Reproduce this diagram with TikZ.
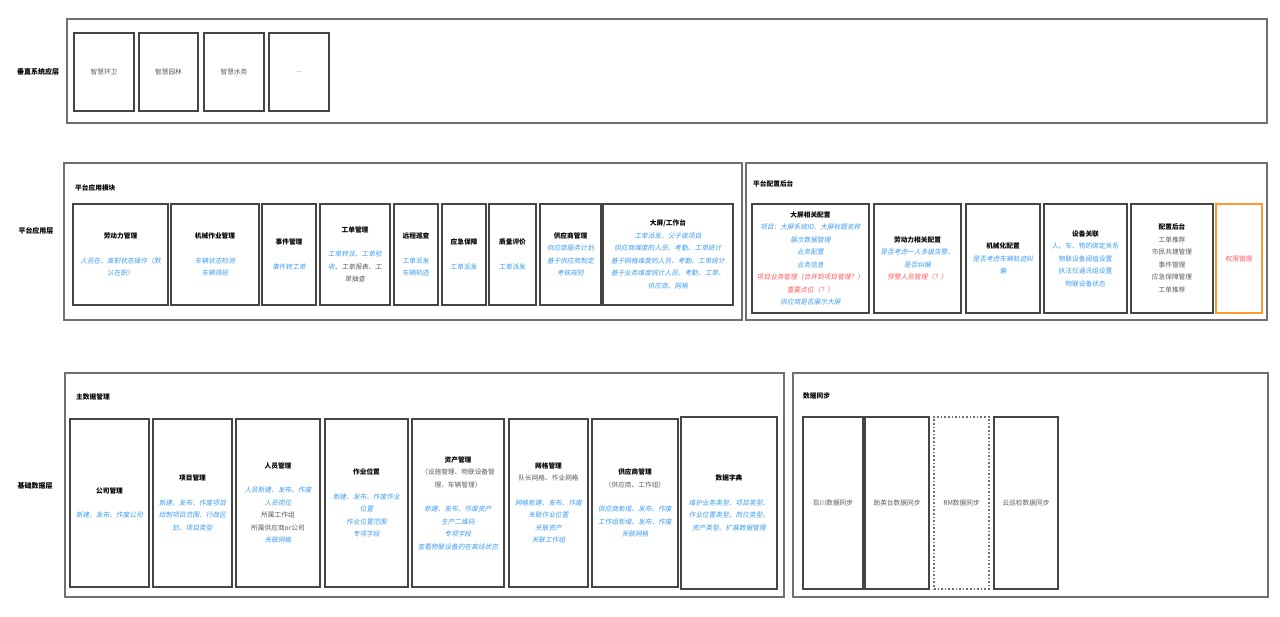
\documentclass[tikz,border=0pt]{standalone}
\usepackage{fontspec}
\setmainfont{Noto Sans CJK SC}
\newfontfamily\slf[FakeSlant=0.18]{Noto Sans CJK SC}
\definecolor{bl}{HTML}{3D9BF0}
\definecolor{rd}{HTML}{FF5A5A}
\definecolor{gt}{HTML}{5A5A5A}
\definecolor{ol}{HTML}{707070}
\definecolor{il}{HTML}{454545}
\definecolor{og}{HTML}{FF9A30}
\newcommand\fsz{\fontsize{6.7}{12.5}\selectfont}
\newcommand\B[1]{\textcolor{bl}{\slf #1}}
\newcommand\Bu[1]{\textcolor{bl}{#1}}
\newcommand\R[1]{\textcolor{rd}{\slf #1}}
\newcommand\G[1]{\textcolor{gt}{#1}}
\newcommand\Gs[1]{\textcolor{gt}{\slf #1}}
\newcommand\T[1]{{\bfseries #1}}
\newcommand\bx[7]{\node[#1, minimum width={#5pt-#3pt}, minimum height={#6pt-#4pt}] (#2) at ({(#3+#5)/2},{(#4+#6)/2}) {#7};}
\tikzset{
  outerbox/.style={draw=ol, line width=1.2pt, inner sep=0pt},
  inbox/.style={draw=il, line width=1.6pt, align=center, inner sep=1pt, font=\fsz, text=black},
  dotbox/.style={inbox, draw=ol, dotted, line width=1.4pt},
  orbox/.style={inbox, draw=og, line width=1.3pt},
  ttl/.style={anchor=west, font=\fsz\bfseries, inner sep=0pt},
  lyr/.style={font=\fontsize{7}{9}\selectfont\bfseries, inner sep=0pt}
}
\begin{document}
\begin{tikzpicture}[x=1pt, y=-1pt]
\useasboundingbox (0,0) rectangle (1280,616);
% ---------- vertical systems layer
\node[lyr] (L1) at (38,72) {垂直系统应层};
\bx{outerbox}{top}{67}{19}{1267}{123}{}
\bx{inbox}{s1}{74}{33}{134}{111}{\G{智慧环卫}}
\bx{inbox}{s2}{139}{33}{198}{111}{\G{智慧园林}}
\bx{inbox}{s3}{204}{33}{264}{111}{\G{智慧水务}}
\bx{inbox}{s4}{269}{33}{329}{111}{\G{...}}
% ---------- platform layer
\node[lyr] (L2) at (36,231) {平台应用层};
\bx{outerbox}{app}{64}{163}{742}{320}{}
\node[ttl] (appt) at (75,188) {平台应用模块};
\bx{inbox}{lab}{73}{204}{168}{305}{\T{劳动力管理}\\[12pt]\B{人员在、离职状态操作（默}\\\B{认在职）}}
\bx{inbox}{mach}{171}{204}{259}{305}{\T{机械作业管理}\\[12pt]\B{车辆状态检测}\\\B{车辆排班}}
\bx{inbox}{evt}{262}{204}{316}{305}{\T{事件管理}\\[12pt]\B{事件转工单}}
\bx{inbox}{wo}{320}{204}{390}{305}{\T{工单管理}\\[12pt]\B{工单转派、工单验}\\\B{收}\Gs{、工单报表、工}\\\Gs{单抽查}}
\bx{inbox}{rem}{394}{204}{438}{305}{\T{远程巡查}\\[12pt]\Bu{工单派发}\\\Bu{车辆轨迹}}
\bx{inbox}{emg}{442}{204}{486}{305}{\T{应急保障}\\[12pt]\Bu{工单派发}}
\bx{inbox}{qa}{489}{204}{536}{305}{\T{质量评价}\\[12pt]\Bu{工单派发}}
\bx{inbox}{sup}{540}{204}{601}{305}{\T{供应商管理}\\\B{供应商服务计划}\\\B{基于供应商制定}\\\B{考核规则}}
\bx{inbox}{scr}{603}{204}{733}{305}{\T{大屏/工作台}\\\B{工单派发、父子级项目}\\\B{供应商维度的人员、考勤、工单统计}\\\B{基于网格维度的人员、考勤、工单统计}\\\B{基于业务维度统计人员、考勤、工单、}\\\B{供应商、网格}}
% ---------- config backend
\bx{outerbox}{cfgo}{746}{163}{1267}{320}{}
\node[ttl] (cfgt) at (753,184) {平台配置后台};
\bx{inbox}{scfg}{752}{204}{869}{313}{\T{大屏相关配置}\\\B{项目：大屏系统ID、大屏标题名称}\\\B{展示数据管理}\\\B{业务配置}\\\B{业务信息}\\\R{项目业务管理（合并到项目管理？）}\\\R{重要点位（？）}\\\B{供应商是否展示大屏}}
\bx{inbox}{lcfg}{874}{204}{961}{313}{\T{劳动力相关配置}\\\B{是否考虑一人多级告警、}\\\B{是否纠偏}\\\R{预警人员管理（？）}}
\bx{inbox}{mcfg}{966}{204}{1040}{313}{\T{机械化配置}\\\B{是否考虑车辆轨迹纠}\\\B{偏}}
\bx{inbox}{dev}{1044}{204}{1127}{313}{\T{设备关联}\\\Bu{人、车、物的绑定关系}\\\Bu{物联设备阈值设置}\\\Bu{执法仪通讯组设置}\\\Bu{物联设备状态}}
\bx{inbox}{cfg}{1131}{204}{1213}{313}{\T{配置后台}\\\G{工单推荐}\\\G{市民共建管理}\\\G{事件管理}\\\G{应急保障管理}\\\G{工单推荐}}
\bx{orbox}{perm}{1216}{204}{1262}{313}{\textcolor{rd}{权限管理}}
% ---------- base data layer
\node[lyr] (L3) at (35,486) {基础数据层};
\bx{outerbox}{mdm}{65}{373}{784}{597}{}
\node[ttl] (mdmt) at (76,397) {主数据管理};
\bx{inbox}{co}{70}{419}{149}{587}{\T{公司管理}\\[12pt]\B{新建、发布、作废公司}}
\bx{inbox}{prj}{153}{419}{232}{587}{\T{项目管理}\\[12pt]\B{新建、发布、作废项目}\\\B{绘制项目范围、行政区}\\\B{划、项目类型}}
\bx{inbox}{ppl}{236}{419}{320}{587}{\T{人员管理}\\[12pt]\B{人员新建、发布、作废}\\\B{人员岗位}\\\G{所属工作组}\\\G{所属供应商or公司}\\\B{关联网格}}
\bx{inbox}{loc}{325}{419}{408}{587}{\T{作业位置}\\[12pt]\B{新建、发布、作废作业}\\\B{位置}\\\B{作业位置范围}\\\B{专项字段}}
\bx{inbox}{ast}{412}{419}{504}{587}{\T{资产管理}\\\G{（设施管理、物联设备管}\\\G{理、车辆管理）}\\[12pt]\B{新建、发布、作废资产}\\\B{生产二维码}\\\B{专项字段}\\\B{查看物联设备的在离线状态}}
\bx{inbox}{grid}{509}{419}{588}{587}{\T{网格管理}\\\G{队长网格、作业网格}\\[12pt]\B{网格新建、发布、作废}\\\B{关联作业位置}\\\B{关联资产}\\\B{关联工作组}}
\bx{inbox}{vnd}{592}{419}{678}{587}{\T{供应商管理}\\\G{（供应商、工作组）}\\[12pt]\B{供应商新增、发布、作废}\\\B{工作组新增、发布、作废}\\\B{关联网格}}
\bx{inbox}{dict}{681}{417}{777}{589}{\T{数据字典}\\[12pt]\B{维护业务类型、项目类型、}\\\B{作业位置类型、岗位类型、}\\\B{资产类型、扩展数据管理}}
% ---------- data sync
\bx{outerbox}{syn}{793}{373}{1268}{597}{}
\node[ttl] (synt) at (803,396) {数据同步};
\bx{inbox}{bc}{803}{417}{863}{589}{\G{百川数据同步}}
\bx{inbox}{zy}{865}{417}{929}{589}{\G{助英台数据同步}}
\bx{dotbox}{rm}{934}{417}{989}{589}{\G{RM数据同步}}
\bx{inbox}{yx}{994}{417}{1058}{589}{\G{云巡检数据同步}}
\end{tikzpicture}
\end{document}
